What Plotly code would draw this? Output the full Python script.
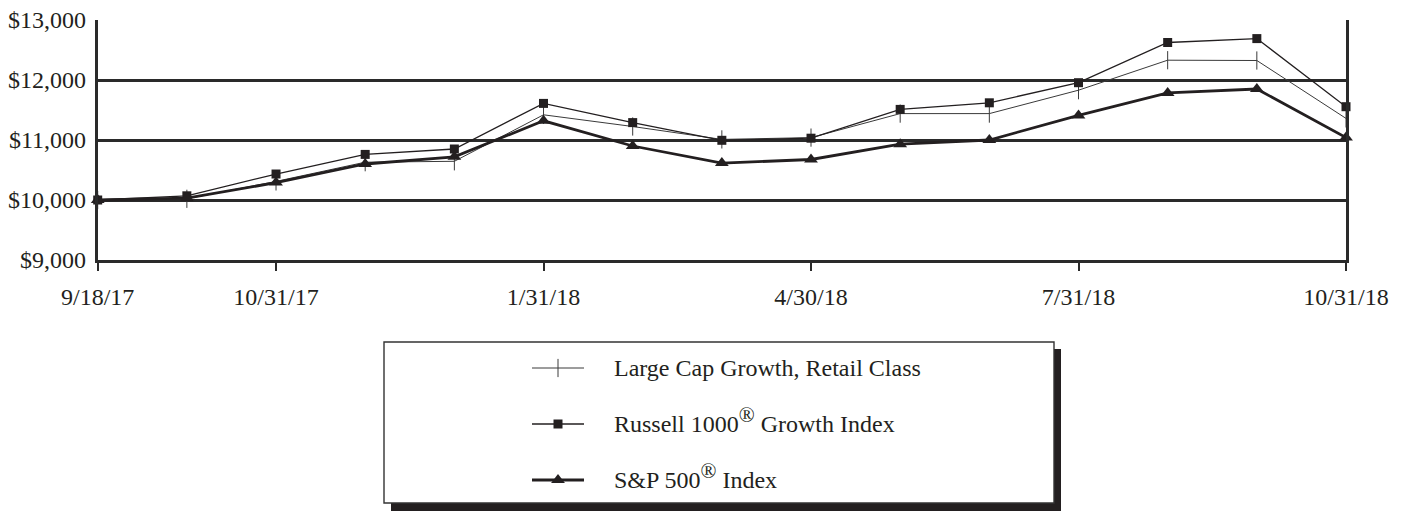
import plotly.graph_objects as go

# Month-end observation dates (category axis)
dates = ["9/18/17", "9/30/17", "10/31/17", "11/30/17", "12/31/17", "1/31/18",
         "2/28/18", "3/31/18", "4/30/18", "5/31/18", "6/30/18", "7/31/18",
         "8/31/18", "9/30/18", "10/31/18"]
tick_labels = ["9/18/17", "10/31/17", "1/31/18", "4/30/18", "7/31/18", "10/31/18"]

# Growth of a $10,000 investment
large_cap_growth = [10000, 10020, 10310, 10630, 10645, 11420, 11225, 11010, 11040,
                    11440, 11440, 11830, 12330, 12325, 11360]
russell_1000_growth = [10000, 10070, 10433, 10760, 10850, 11610, 11290, 10995, 11030,
                       11510, 11620, 11955, 12625, 12690, 11555]
sp_500 = [10000, 10030, 10290, 10600, 10720, 11320, 10900, 10615, 10675,
          10930, 11000, 11410, 11785, 11850, 11040]

REG = "<sup><span style='font-size:21px'>®</span></sup>"
series_names = ["Large Cap Growth, Retail Class",
                "Russell 1000" + REG + " Growth Index",
                "S&P 500" + REG + " Index"]

W, H = 1404, 511
INK = "#231f20"
FONT = "Liberation Serif"

styles = [
    dict(line=dict(color="#3a3a3a", width=1),
         marker=dict(symbol="line-ns", size=13, line=dict(color="#3a3a3a", width=1))),
    dict(line=dict(color=INK, width=1.3),
         marker=dict(symbol="square", size=9, color=INK)),
    dict(line=dict(color=INK, width=2.8),
         marker=dict(symbol="triangle-up", size=12, color=INK)),
]

fig = go.Figure()
for name, vals, st in zip(series_names, [large_cap_growth, russell_1000_growth, sp_500], styles):
    fig.add_trace(go.Scatter(x=dates, y=vals, mode="lines+markers", name=name,
                             line=st["line"], marker=st["marker"], cliponaxis=False,
                             showlegend=False, xaxis="x", yaxis="y"))

# Custom legend drawn in pixel space on an overlay axis pair
box_l, box_t, box_r, box_b = 384, 342, 1054, 503
shadow = 7
sample_x0, sample_x1, sample_mid = 532, 584, 558
text_x = 612
row_y = [368, 424, 480]

shapes = [
    dict(type="rect", xref="x2", yref="y2", x0=box_l + shadow, y0=box_t + shadow,
         x1=box_r + shadow, y1=box_b + shadow + 2, fillcolor=INK, line=dict(width=0),
         layer="below"),
    dict(type="rect", xref="x2", yref="y2", x0=box_l, y0=box_t, x1=box_r, y1=box_b,
         fillcolor="white", line=dict(color="#333333", width=1.4), layer="below"),
]

annotations = []
for name, st, yy in zip(series_names, styles, row_y):
    fig.add_trace(go.Scatter(x=[sample_x0, sample_x1], y=[yy, yy], mode="lines",
                             line=st["line"], showlegend=False, hoverinfo="skip",
                             xaxis="x2", yaxis="y2"))
    fig.add_trace(go.Scatter(x=[sample_mid], y=[yy], mode="markers",
                             marker=st["marker"], showlegend=False, hoverinfo="skip",
                             cliponaxis=False, xaxis="x2", yaxis="y2"))
    # superscripted labels grow upward, so nudge them back onto the row baseline
    annotations.append(dict(x=text_x, y=yy, xref="x2", yref="y2", text=name,
                            showarrow=False, xanchor="left", yanchor="middle",
                            yshift=4 if "<sup>" in name else 0,
                            font=dict(family=FONT, size=24, color=INK)))

plot_left, plot_right, plot_top, plot_bottom = 97.7, 1346, 20, 260

fig.update_layout(
    width=W, height=H,
    margin=dict(l=0, r=0, t=0, b=0, autoexpand=False),
    paper_bgcolor="white",
    plot_bgcolor="rgba(0,0,0,0)",
    font=dict(family=FONT, size=24, color=INK),
    shapes=shapes,
    annotations=annotations,
    xaxis=dict(
        type="category",
        domain=[plot_left / W, plot_right / W],
        range=[0, len(dates) - 1],
        tickmode="array", tickvals=tick_labels, ticktext=tick_labels,
        ticks="outside", ticklen=8, tickwidth=2, tickcolor="#2a2a2a",
        showgrid=False, zeroline=False,
        showline=True, linecolor="#2a2a2a", linewidth=2.6, mirror=False,
        ticklabelstandoff=5,
        tickfont=dict(family=FONT, size=24, color=INK),
        anchor="y", automargin=False,
    ),
    yaxis=dict(
        domain=[1 - plot_bottom / H, 1 - plot_top / H],
        range=[9000, 13000], dtick=1000, tickprefix="$", tickformat=",.0f",
        ticks="", showgrid=True, gridcolor="#2a2a2a", gridwidth=2.6,
        zeroline=False, showline=True, linecolor="#2a2a2a", linewidth=2.6,
        mirror=True, ticklabelstandoff=4,
        tickfont=dict(family=FONT, size=24, color=INK),
        anchor="x", automargin=False,
    ),
    xaxis2=dict(domain=[0, 1], range=[0, W], visible=False, anchor="y2", fixedrange=True),
    yaxis2=dict(domain=[0, 1], range=[H, 0], visible=False, anchor="x2", fixedrange=True),
)

fig.write_html("out.html")
